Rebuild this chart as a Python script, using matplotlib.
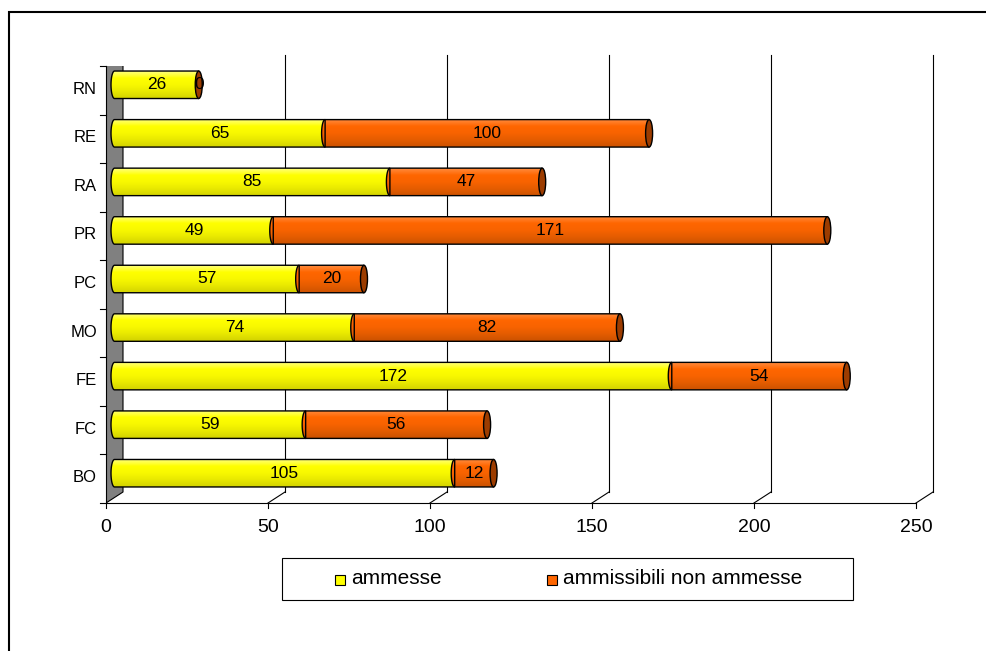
import numpy as np
import matplotlib
matplotlib.use("Agg")
import matplotlib.pyplot as plt
from matplotlib.patches import Polygon, Ellipse, Rectangle, PathPatch
from matplotlib.path import Path
from matplotlib.transforms import ScaledTranslation, IdentityTransform
from matplotlib.lines import Line2D
from matplotlib.colors import LinearSegmentedColormap

plt.rcParams['font.family'] = ['Liberation Sans', 'DejaVu Sans']

# provinces, bottom to top
provinces = ['BO', 'FC', 'FE', 'MO', 'PC', 'PR', 'RA', 'RE', 'RN']
ammesse = [105, 59, 172, 74, 57, 49, 85, 65, 26]
non_ammesse = [12, 56, 54, 82, 20, 171, 47, 100, 0]
series_names = ['ammesse', 'ammissibili non ammesse']
xticks = [0, 50, 100, 150, 200, 250]

DPI = 100
fig = plt.figure(figsize=(9.86, 6.51), dpi=DPI)
W, H = 986, 651

# front plane of the 3d box, in pixels
x_left, x_right = 106, 916
y_top, y_bot = 66, 503
ax = fig.add_axes([x_left / W, 1 - y_bot / H, (x_right - x_left) / W, (y_bot - y_top) / H])
ax.axis('off')
ax.set_xlim(0, 250)
ax.set_ylim(-0.5, len(provinces) - 0.5)

depth = (17, 11)  # back plane shift in pixels
px = 1.0 / DPI
front = ax.transData
mid = ax.transData + ScaledTranslation(depth[0] / 2 * px, depth[1] / 2 * px, fig.dpi_scale_trans)
back = ax.transData + ScaledTranslation(depth[0] * px, depth[1] * px, fig.dpi_scale_trans)

y0, y1 = -0.5, len(provinces) - 0.5

# side wall (pixel coords, drawn under the bars)
wall_pts = np.array([front.transform((0, y0)), front.transform((0, y1)),
                     back.transform((0, y1)), back.transform((0, y0))])
wall = Polygon(wall_pts, closed=True, transform=IdentityTransform(), facecolor='#808080',
               edgecolor='black', lw=0.8, zorder=1)
ax.add_patch(wall)

# gridlines on the back wall and floor connectors
for xt in xticks[1:]:
    ax.plot([xt, xt], [y0, y1], color='black', lw=0.8, transform=back, clip_on=False, zorder=0)
    p0 = front.transform((xt, y0))
    p1 = back.transform((xt, y0))
    fig.add_artist(Line2D([p0[0], p1[0]], [p0[1], p1[1]], transform=None, color='black', lw=0.8))

# front axes lines and ticks
ax.plot([0, 250], [y0, y0], color='black', lw=0.8, clip_on=False)
ax.plot([0, 0], [y0, y1], color='black', lw=0.8, clip_on=False, zorder=2)
for xt in xticks:
    p = front.transform((xt, y0))
    fig.add_artist(Line2D([p[0], p[0]], [p[1], p[1] - 5], transform=None, color='black', lw=0.8))
    ax.text(xt, y0, str(xt), transform=front + ScaledTranslation(0, -25 * px, fig.dpi_scale_trans),
            ha='center', va='center', fontsize=14)
for yb in np.arange(y0, y1 + 0.01, 1.0):
    p = front.transform((0, yb))
    fig.add_artist(Line2D([p[0] - 6, p[0]], [p[1], p[1]], transform=None, color='black', lw=0.8))
for i, name in enumerate(provinces):
    ax.text(0, i, name, transform=front + ScaledTranslation(-9 * px, 1 * px, fig.dpi_scale_trans),
            ha='right', va='center', fontsize=12)

# cylinders
bar_h = 0.566
a = 3.5 / ((x_right - x_left) / 250.0)  # end-cap half width in data units
b = bar_h / 2

yellow = LinearSegmentedColormap.from_list('y', ['#ffff80', '#ffff00', '#f8f800', '#e8e800', '#d2d200'])
orange = LinearSegmentedColormap.from_list('o', ['#ff8c40', '#ff6600', '#f86300', '#e45c00', '#cc5200'])
grad = np.linspace(0, 1, 64).reshape(-1, 1)


def body(xa, xb, yc, cmap):
    t = np.linspace(np.pi / 2, 3 * np.pi / 2, 30)
    verts = [(xa + a * np.cos(tt), yc + b * np.sin(tt)) for tt in t]
    verts += [(xb, yc - b), (xb, yc + b), verts[0]]
    codes = [Path.MOVETO] + [Path.LINETO] * (len(verts) - 2) + [Path.CLOSEPOLY]
    patch = PathPatch(Path(verts, codes), transform=mid, facecolor='none',
                      edgecolor='black', lw=1.0, zorder=4)
    ax.add_patch(patch)
    im = ax.imshow(grad, cmap=cmap, extent=(xa - a, xb, yc - b, yc + b), origin='upper',
                   aspect='auto', transform=mid, zorder=3, interpolation='bilinear')
    im.set_clip_path(patch)
    patch.set_clip_on(False)


for i, (v1, v2) in enumerate(zip(ammesse, non_ammesse)):
    body(0, v1, i, yellow)
    if v2 > 0:
        body(v1, v1 + v2, i, orange)
    cap = Ellipse((v1 + v2, i), 2 * a, 2 * b, transform=mid, facecolor='#9c3c00',
                  edgecolor='black', lw=1.0, zorder=5)
    ax.add_patch(cap)
    ax.text(v1 / 2, i, str(v1), transform=mid, ha='center', va='center', fontsize=12.5, zorder=6)
    ax.text(v1 + v2 / 2, i, str(v2), transform=mid, ha='center', va='center', fontsize=12.5, zorder=6)

ax.set_xlim(0, 250)
ax.set_ylim(y0, y1)

# legend box
lg_l, lg_r, lg_t, lg_b = 282, 853, 558, 600
fig.add_artist(Rectangle((lg_l / W, 1 - lg_b / H), (lg_r - lg_l) / W, (lg_b - lg_t) / H,
                         transform=fig.transFigure, facecolor='white', edgecolor='black', lw=0.8))
yc_leg = 579.5
for xs, col, label in [(335, '#ffff00', series_names[0]), (547, '#ff6600', series_names[1])]:
    fig.add_artist(Rectangle((xs / W, 1 - (yc_leg + 5) / H), 10 / W, 10 / H,
                             transform=fig.transFigure, facecolor=col, edgecolor='black', lw=0.8))
    fig.text((xs + 16) / W, 1 - (yc_leg - 1) / H, label, ha='left', va='center', fontsize=15)

# outer frame
fig.add_artist(Rectangle((9 / W, -0.1), 1.2, 1.1 - 12 / H, transform=fig.transFigure,
                         fill=False, edgecolor='black', lw=1.5))

fig.savefig('out.png', dpi=DPI)
